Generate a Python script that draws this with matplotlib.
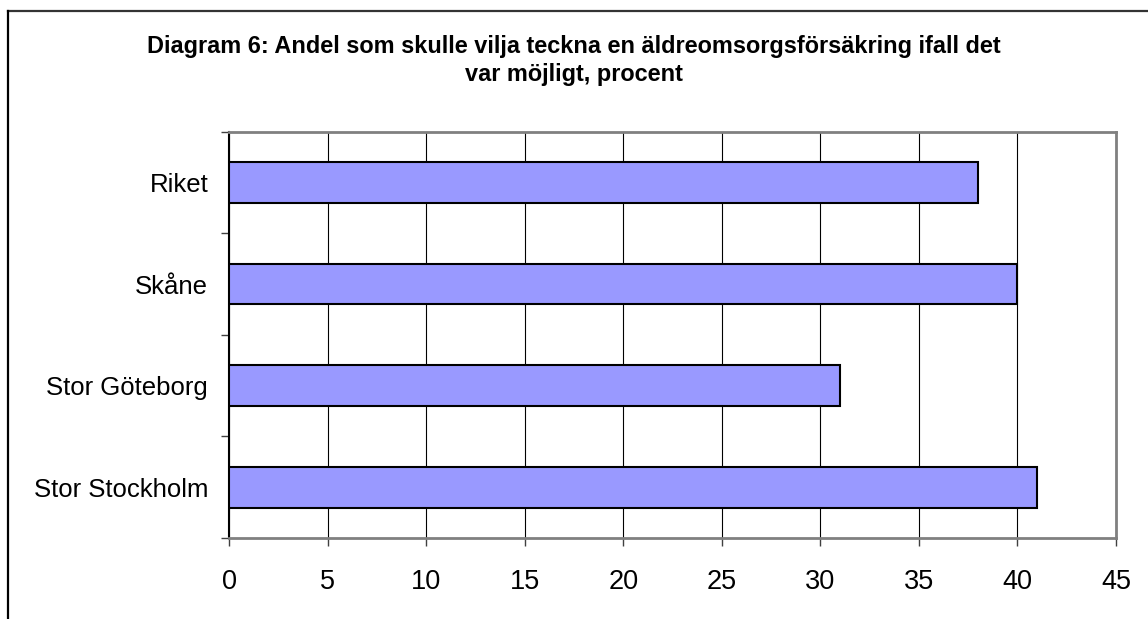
import numpy as np
import matplotlib.pyplot as plt
from matplotlib.lines import Line2D

plt.rcParams['font.family'] = ['Liberation Sans', 'DejaVu Sans']

# data, bottom to top as drawn
regions = ["Stor Stockholm", "Stor Göteborg", "Skåne", "Riket"]
andel = [41, 31, 40, 38]
xticks = [0, 5, 10, 15, 20, 25, 30, 35, 40, 45]

title = ("Diagram 6: Andel som skulle vilja teckna en äldreomsorgsförsäkring ifall det\n"
         "var möjligt, procent")

fig = plt.figure(figsize=(11.48, 6.19), dpi=100)
ax = fig.add_axes([0.1995, 0.1309, 0.9721 - 0.1995, 0.7872 - 0.1309])

y = np.arange(len(regions))
ax.barh(y, andel, height=0.4, color='#9999FF', edgecolor='black', linewidth=1.5, zorder=3)

ax.set_xlim(0, 45)
ax.set_ylim(-0.5, len(regions) - 0.5)
ax.set_xticks(xticks)
ax.set_xticklabels([str(t) for t in xticks], fontsize=19.5)
ax.set_yticks(y)
ax.set_yticklabels(regions, fontsize=18.5)
ax.set_yticks(np.arange(-0.5, len(regions), 1.0), minor=True)

ax.tick_params(axis='x', which='major', direction='out', length=6, width=1, color='#404040', pad=16)
ax.tick_params(axis='y', which='major', length=0, pad=15)
ax.tick_params(axis='y', which='minor', direction='out', length=5.5, width=1, color='#404040')

ax.grid(axis='x', color='black', linewidth=0.8, zorder=0)

for s in ['top', 'right', 'bottom']:
    ax.spines[s].set_color('#808080')
    ax.spines[s].set_linewidth(2)
ax.spines['left'].set_color('black')
ax.spines['left'].set_linewidth(1.5)

fig.text(0.5, 1 - 35 / 619, title, ha='center', va='top', fontsize=16.9,
         fontweight='bold', linespacing=1.3)

# outer chart border (top and left edges only visible)
fig.add_artist(Line2D([7.5 / 1148, 1.0], [1 - 10.5 / 619, 1 - 10.5 / 619],
                      transform=fig.transFigure, color='#333333', linewidth=1.6))
fig.add_artist(Line2D([7.5 / 1148, 7.5 / 1148], [0, 1 - 10.5 / 619],
                      transform=fig.transFigure, color='black', linewidth=1.6))

fig.savefig('out.png', dpi=100)
